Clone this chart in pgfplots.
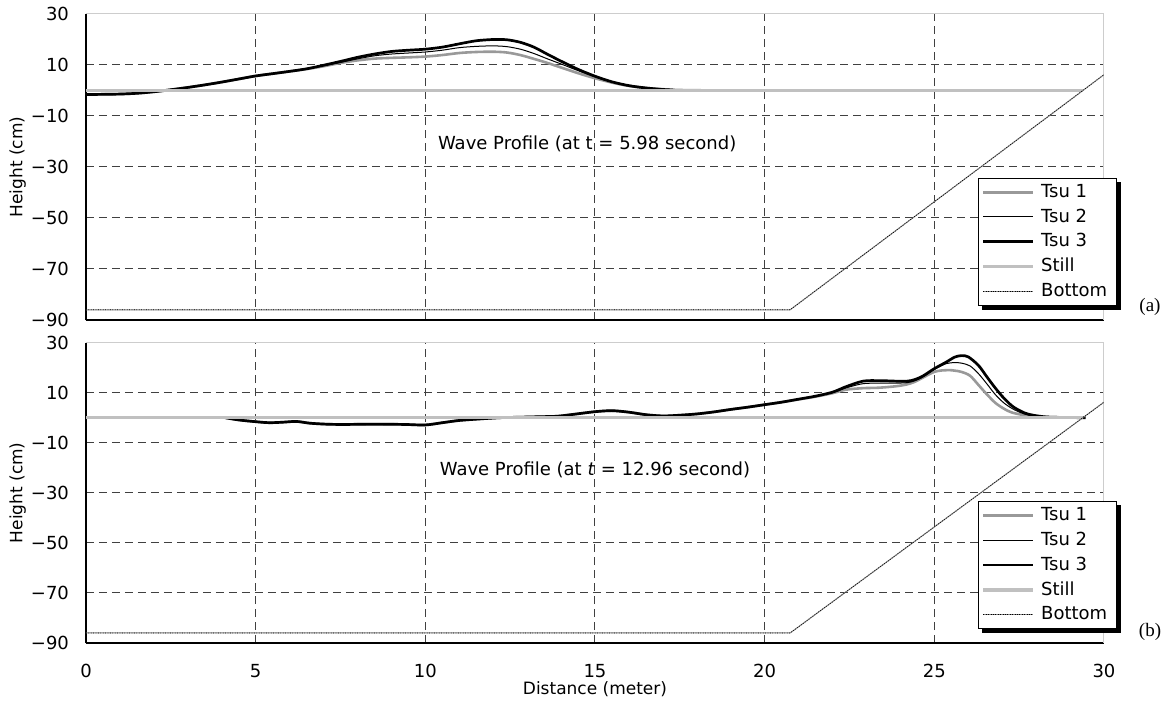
\documentclass[border=0pt]{standalone}
\usepackage{pgfplots}
\pgfplotsset{compat=1.18}
\usepackage{fontspec}
\setmainfont{DejaVu Sans}
\newfontfamily\seriffont{Liberation Serif}

\definecolor{tsuone}{HTML}{999999}
\definecolor{stillgray}{HTML}{C0C0C0}
\definecolor{bedgray}{HTML}{808080}
\definecolor{gridgray}{HTML}{404040}

% black offset shadow along the right and lower edges of a legend box
\tikzset{legendshadow/.style={fill=black, draw=none}}

% ---------- wave profile at t = 5.98 s ----------
\pgfplotstableread{
x y
0 -1.6
0.5 -1.5
1 -1.4
1.5 -1.1
2 -0.5
2.5 0.3
3 1.2
3.5 2.2
4 3.3
4.5 4.5
5 5.7
5.5 6.6
6 7.5
6.5 8.4
7 9.5
7.5 10.8
8 11.8
8.5 12.5
9 12.8
9.5 13.0
10 13.3
10.5 13.9
11 14.7
11.5 15.1
12 15.2
12.4 14.9
12.8 13.9
13.2 12.4
13.6 10.8
14 9.0
14.5 6.8
15 4.8
15.5 3.1
16 1.8
16.5 1.0
17 0.5
17.5 0.2
18 0.1
18.5 0
}\aone

\pgfplotstableread{
x y
0 -1.6
0.5 -1.5
1 -1.4
1.5 -1.1
2 -0.5
2.5 0.3
3 1.2
3.5 2.2
4 3.3
4.5 4.5
5 5.7
5.5 6.6
6 7.5
6.5 8.4
7 9.7
7.5 11.0
8 12.4
8.5 13.6
9 14.3
9.5 14.7
10 15.1
10.5 15.8
11 16.8
11.5 17.3
12 17.5
12.4 17.2
12.8 16.2
13.2 14.5
13.6 12.4
14 10.4
14.5 7.8
15 5.4
15.5 3.3
16 1.9
16.5 1.0
17 0.4
17.3 0.2
}\atwo

\pgfplotstableread{
x y
0 -1.6
0.5 -1.5
1 -1.4
1.5 -1.1
2 -0.5
2.5 0.3
3 1.2
3.5 2.2
4 3.3
4.5 4.5
5 5.7
5.5 6.6
6 7.5
6.5 8.5
7 9.9
7.5 11.4
8 13.0
8.5 14.3
9 15.3
9.5 15.8
10 16.2
10.5 17.0
11 18.3
11.5 19.5
12 20.0
12.4 19.9
12.8 18.9
13.2 17.0
13.6 14.2
14 11.5
14.5 8.3
15 5.6
15.5 3.4
16 1.9
16.5 1.0
17 0.4
17.3 0.2
}\athree

% ---------- wave profile at t = 12.96 s ----------
\pgfplotstableread{
x y
4.1 0
4.5 -0.9
5.0 -1.6
5.4 -2.0
5.8 -1.8
6.2 -1.5
6.6 -2.2
7.1 -2.6
7.6 -2.7
8.2 -2.6
8.8 -2.6
9.4 -2.7
10.0 -2.9
10.5 -2.0
11.0 -1.1
11.6 -0.5
12.2 0
12.8 0.2
13.4 0.4
13.9 0.6
14.4 1.4
15.0 2.4
15.5 2.8
16.0 2.2
16.5 1.2
17.0 0.7
17.5 1.0
18.0 1.5
18.5 2.3
19.0 3.3
19.5 4.2
20.0 5.2
20.5 6.2
21.0 7.3
21.5 8.4
22.0 9.8
22.4 11.2
22.9 11.8
23.4 12.0
24.0 12.8
24.4 14.2
25.0 18.3
25.4 19.0
25.6 18.8
25.8 18.3
26.05 16.8
26.3 13.1
26.55 9.3
26.8 5.9
27.05 3.6
27.3 2.0
27.8 0.7
28.3 0.3
29.0 0.05
29.2 0
}\bone

\pgfplotstableread{
x y
4.1 0
4.5 -0.9
5.0 -1.6
5.4 -2.0
5.8 -1.8
6.2 -1.5
6.6 -2.2
7.1 -2.6
7.6 -2.7
8.2 -2.6
8.8 -2.6
9.4 -2.7
10.0 -2.9
10.5 -2.0
11.0 -1.1
11.6 -0.5
12.2 0
12.8 0.2
13.4 0.4
13.9 0.6
14.4 1.4
15.0 2.4
15.5 2.8
16.0 2.2
16.5 1.2
17.0 0.7
17.5 1.0
18.0 1.5
18.5 2.3
19.0 3.3
19.5 4.2
20.0 5.2
20.5 6.2
21.0 7.4
21.5 8.6
22.0 10.0
22.4 11.9
22.9 13.6
23.4 13.8
24.2 14.0
24.6 15.8
25.0 19.3
25.35 21.6
25.6 22.0
25.8 21.8
26.05 20.7
26.3 17.6
26.55 13.5
26.8 9.2
27.05 5.9
27.3 3.6
27.55 2.0
27.8 1.0
28.3 0.3
29.0 0.05
}\btwo

\pgfplotstableread{
x y
4.1 0
4.5 -0.9
5.0 -1.6
5.4 -2.0
5.8 -1.8
6.2 -1.5
6.6 -2.2
7.1 -2.6
7.6 -2.7
8.2 -2.6
8.8 -2.6
9.4 -2.7
10.0 -2.9
10.5 -2.0
11.0 -1.1
11.6 -0.5
12.2 0
12.8 0.2
13.4 0.4
13.9 0.6
14.4 1.4
15.0 2.4
15.5 2.8
16.0 2.2
16.5 1.2
17.0 0.7
17.5 1.0
18.0 1.5
18.5 2.3
19.0 3.3
19.5 4.2
20.0 5.2
20.5 6.2
21.0 7.4
21.5 8.6
22.0 10.2
22.4 12.4
22.9 14.6
23.4 14.8
24.2 14.6
24.6 16.2
25.0 19.6
25.35 22.2
25.6 24.2
25.8 24.8
26.0 24.3
26.3 20.9
26.55 16.3
26.8 11.8
27.05 7.8
27.3 4.6
27.55 2.6
27.8 1.3
28.3 0.3
29.0 0.05
29.46 0
}\bthree

% still water level and bed profile (shared)
\pgfplotstableread{
x y
0 0
29.37 0
}\still

\pgfplotstableread{
x y
0 -86
20.75 -86
30 6.2
}\bed

\pgfplotsset{
  waveaxis/.style={
    scale only axis,
    width=509pt,
    xmin=0, xmax=30, ymin=-90, ymax=30,
    xtick={0,5,...,30},
    ytick={-90,-70,-50,-30,-10,10,30},
    yticklabels={−90,−70,−50,−30,−10,10,30},
    axis lines=left,
    axis line style={-, black, line width=0.6pt},
    major tick length=0pt,
    grid=major,
    grid style={gridgray, line width=0.5pt, dash pattern=on 4pt off 2.5pt},
    tick label style={font=\fontsize{9}{10.8}\selectfont},
    yticklabel style={xshift=-5pt},
    xticklabel style={yshift=-7pt},
    ylabel={Height (cm)},
    ylabel style={at={(axis description cs:-0.067,0.5)}, anchor=center, rotate=0,
                  font=\fontsize{8.5}{10}\selectfont},
    legend cell align=left,
    legend image code/.code={\draw[##1] (0pt,0pt) -- (25pt,0pt);},
    legend style={draw=black, line width=0.5pt, fill=white,
                  font=\fontsize{9}{10.8}\selectfont,
                  anchor=south east, at={(axis description cs:1.0125,0.046)},
                  inner xsep=1.5pt, inner ysep=1pt, row sep=0.2pt,
                  nodes={inner xsep=3pt}},
    /pgf/number format/assume math mode=true,
  },
  tsuA/.style={tsuone, line width=1.3pt, smooth},
  tsuB/.style={black, line width=0.5pt, smooth},
  tsuC/.style={black, line width=1.35pt, smooth},
  stillS/.style={stillgray, line width=1.8pt},
  bedS/.style={bedgray, line width=0.5pt,
               postaction={draw, black, line width=0.35pt, dash pattern=on 0.4pt off 0.8pt}},
}

\begin{document}
\begin{tikzpicture}
\useasboundingbox (0pt,0pt) rectangle (587.5pt,-350.5pt);

% ---------- upper panel ----------
\begin{axis}[waveaxis, at={(43pt,-160pt)}, anchor=south west, height=153pt,
             xticklabels={}, legend style={name=legA}]
  \draw[stillgray!80, line width=0.5pt] (rel axis cs:0,1) -- (rel axis cs:1,1) -- (rel axis cs:1,0);
  \addplot[tsuA] table {\aone};
  \addlegendentry{Tsu 1}
  \addplot[tsuB] table {\atwo};
  \addlegendentry{Tsu 2}
  \addplot[tsuC] table {\athree};
  \addlegendentry{Tsu 3}
  \addplot[stillS] table {\still};
  \addlegendentry{Still}
  \addplot[bedS] table {\bed};
  \addlegendentry{Bottom}
  \node[font=\fontsize{9}{10.8}\selectfont] at (axis cs:14.77,-21) {Wave Profile (at t = 5.98 second)};
\end{axis}
\fill[legendshadow] ([yshift=-2pt]legA.north east) rectangle ([xshift=2.2pt,yshift=-1.8pt]legA.south east);
\fill[legendshadow] ([xshift=2pt]legA.south west) rectangle ([xshift=2.2pt,yshift=-1.8pt]legA.south east);

% ---------- lower panel ----------
\begin{axis}[waveaxis, at={(43pt,-321.5pt)}, anchor=south west, height=150.2pt,
             legend style={name=legB},
             xlabel={Distance (meter)},
             xlabel style={at={(axis description cs:0.5,0)}, anchor=center, yshift=-23pt,
                           font=\fontsize{8.5}{10}\selectfont}]
  \draw[stillgray!80, line width=0.5pt] (rel axis cs:0,1) -- (rel axis cs:1,1) -- (rel axis cs:1,0);
  \addplot[tsuA] table {\bone};
  \addlegendentry{Tsu 1}
  \addplot[tsuB] table {\btwo};
  \addlegendentry{Tsu 2}
  \addplot[tsuC] table {\bthree};
  \addlegendentry{Tsu 3}
  \addplot[stillS] table {\still};
  \addlegendentry{Still}
  \addplot[bedS] table {\bed};
  \addlegendentry{Bottom}
  \node[font=\fontsize{9}{10.8}\selectfont] at (axis cs:15.0,-20.9) {Wave Profile (at \textit{t} = 12.96 second)};
\end{axis}
\fill[legendshadow] ([yshift=-2pt]legB.north east) rectangle ([xshift=2.2pt,yshift=-1.8pt]legB.south east);
\fill[legendshadow] ([xshift=2pt]legB.south west) rectangle ([xshift=2.2pt,yshift=-1.8pt]legB.south east);

\node[font=\seriffont\fontsize{9.5}{11}\selectfont] at (575pt,-153.5pt) {(a)};
\node[font=\seriffont\fontsize{9.5}{11}\selectfont] at (575pt,-316pt) {(b)};
\end{tikzpicture}
\end{document}
